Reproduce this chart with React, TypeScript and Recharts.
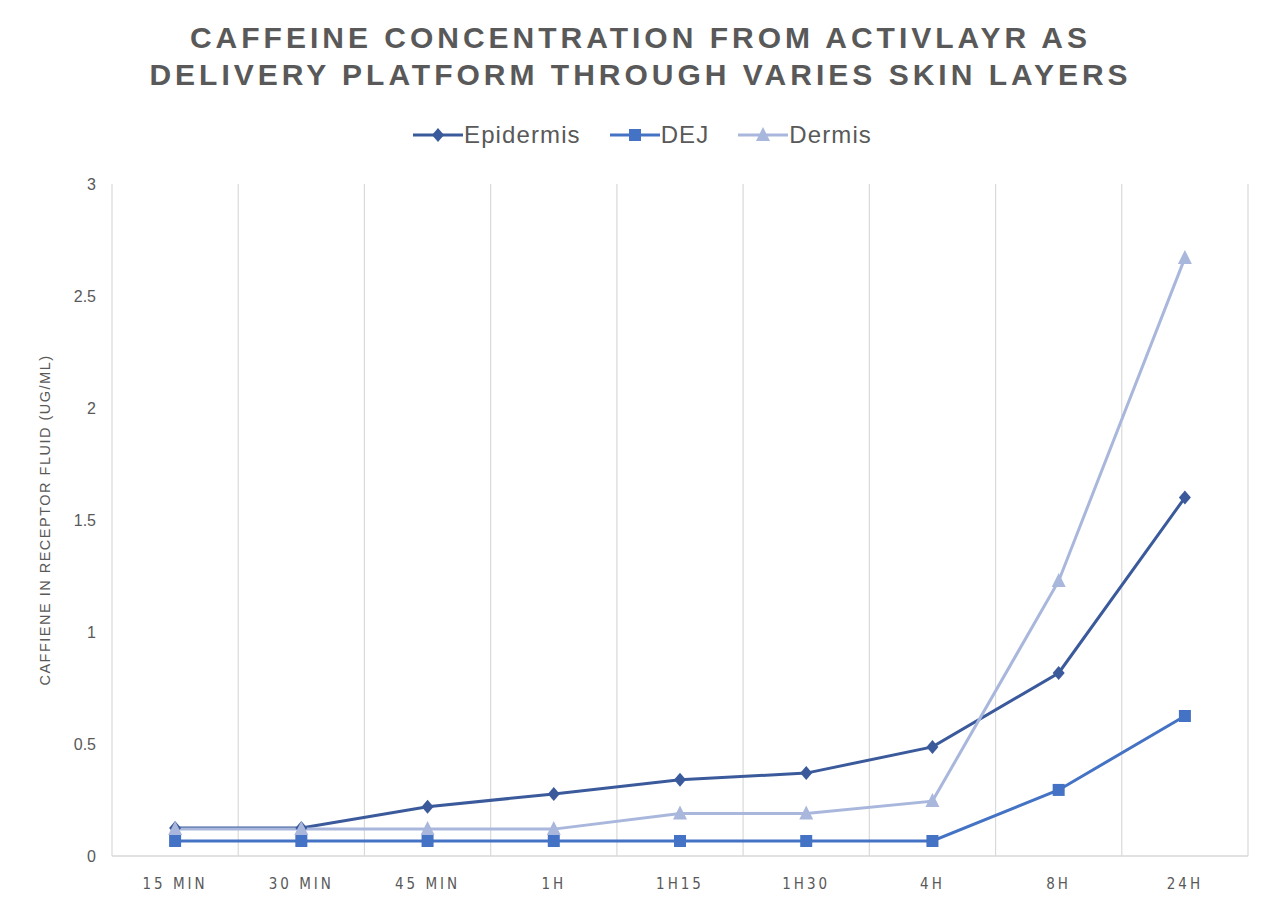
import { LineChart, Line, XAxis, YAxis, CartesianGrid } from "recharts";

const times = ["15 MIN", "30 MIN", "45 MIN", "1H", "1H15", "1H30", "4H", "8H", "24H"];
const epidermis = [0.125, 0.125, 0.22, 0.277, 0.34, 0.37, 0.487, 0.817, 1.6];
const dej = [0.067, 0.067, 0.067, 0.067, 0.067, 0.067, 0.067, 0.295, 0.625];
const dermis = [0.12, 0.12, 0.12, 0.12, 0.19, 0.19, 0.245, 1.228, 2.67];
const yTicks = [0, 0.5, 1, 1.5, 2, 2.5, 3];
const gridTicks = [0, 1, 2, 3, 4, 5, 6, 7, 8, 9];

const data = times.map((t, i) => ({
  time: t,
  idx: i + 0.5,
  epidermis: epidermis[i],
  dej: dej[i],
  dermis: dermis[i],
}));

const C_EPI = "#3b5a9b";
const C_DEJ = "#4472c4";
const C_DER = "#a9b7dd";

const Diamond = (props: any) => {
  const { cx, cy, fill } = props;
  if (cx == null || cy == null) return null;
  return <polygon points={`${cx},${cy - 7} ${cx + 6},${cy} ${cx},${cy + 7} ${cx - 6},${cy}`} fill={fill} />;
};
const Square = (props: any) => {
  const { cx, cy, fill } = props;
  if (cx == null || cy == null) return null;
  return <rect x={cx - 6} y={cy - 6} width={12} height={12} fill={fill} />;
};
const Triangle = (props: any) => {
  const { cx, cy, fill } = props;
  if (cx == null || cy == null) return null;
  return <polygon points={`${cx},${cy - 8} ${cx + 7},${cy + 6} ${cx - 7},${cy + 6}`} fill={fill} />;
};

const legendItems = [
  { name: "Epidermis", color: C_EPI, Shape: Diamond },
  { name: "DEJ", color: C_DEJ, Shape: Square },
  { name: "Dermis", color: C_DER, Shape: Triangle },
];

const App = () => {
  return (
    <div
      style={{
        position: "absolute",
        top: 0,
        left: 0,
        width: 1273,
        height: 902,
        background: "#fff",
        fontFamily: "'Liberation Sans', Arial, sans-serif",
      }}
    >
      <div
        style={{
          position: "absolute",
          top: 19,
          left: 4,
          width: 1273,
          textAlign: "center",
          fontSize: 30,
          lineHeight: "37px",
          fontWeight: "bold",
          letterSpacing: 4,
          color: "#595959",
        }}
      >
        CAFFEINE CONCENTRATION FROM ACTIVLAYR AS
        <br />
        DELIVERY PLATFORM THROUGH VARIES SKIN LAYERS
      </div>
      <div
        style={{
          position: "absolute",
          top: 120,
          left: 0,
          width: 1285,
          display: "flex",
          justifyContent: "center",
          gap: 29,
        }}
      >
        {legendItems.map(({ name, color, Shape }) => (
          <div key={name} style={{ display: "flex", alignItems: "center" }}>
            <svg width={50} height={30}>
              <line x1={0} y1={15} x2={50} y2={15} stroke={color} strokeWidth={3} />
              <Shape cx={25} cy={15} fill={color} />
            </svg>
            <span style={{ fontSize: 24, letterSpacing: 1.1, color: "#595959", marginLeft: 1 }}>{name}</span>
          </div>
        ))}
      </div>
      <LineChart
        width={1273}
        height={902}
        data={data}
        margin={{ top: 184, right: 25, left: 72, bottom: 6 }}
      >
        <XAxis xAxisId="grid" type="number" dataKey="idx" domain={[0, 9]} ticks={gridTicks} hide />
        <CartesianGrid xAxisId="grid" horizontal={false} stroke="#d9d9d9" strokeWidth={1.2} />
        <XAxis
          dataKey="time"
          scale="band"
          tickLine={false}
          axisLine={{ stroke: "#d9d9d9", strokeWidth: 1.5 }}
          tickSize={0}
          tickMargin={22}
          height={40}
          interval={0}
          tick={{ fill: "#595959", fontSize: 15, fontFamily: "'DejaVu Sans Condensed', 'DejaVu Sans'", letterSpacing: 3 }}
        />
        <YAxis
          domain={[0, 3]}
          ticks={yTicks}
          width={40}
          axisLine={false}
          tickLine={false}
          tickSize={0}
          tickMargin={16}
          tick={{ fill: "#595959", fontSize: 16 }}
          label={{
            value: "CAFFIENE IN RECEPTOR FLUID (UG/ML)",
            angle: -90,
            position: "insideLeft",
            offset: -27,
            style: { fill: "#595959", fontSize: 14.5, letterSpacing: 1.5, textAnchor: "middle" },
          }}
        />
        <Line
          dataKey="epidermis"
          name="Epidermis"
          stroke={C_EPI}
          strokeWidth={3}
          dot={<Diamond fill={C_EPI} />}
          isAnimationActive={false}
        />
        <Line
          dataKey="dej"
          name="DEJ"
          stroke={C_DEJ}
          strokeWidth={3}
          dot={<Square fill={C_DEJ} />}
          isAnimationActive={false}
        />
        <Line
          dataKey="dermis"
          name="Dermis"
          stroke={C_DER}
          strokeWidth={3}
          dot={<Triangle fill={C_DER} />}
          isAnimationActive={false}
        />
      </LineChart>
    </div>
  );
};

export default App;
